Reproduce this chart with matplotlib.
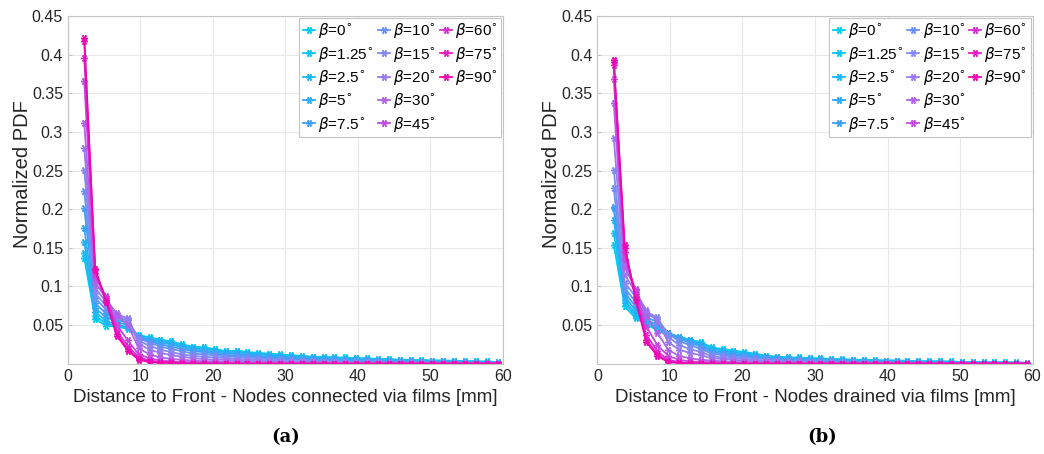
import matplotlib
matplotlib.use("Agg")
import matplotlib.pyplot as plt
from matplotlib.lines import Line2D

plt.rcParams['font.family'] = ['Liberation Sans', 'DejaVu Sans']

distance = [2.25 + 1.5 * k for k in range(39)]

betas = ['0', '1.25', '2.5', '5', '7.5', '10', '15', '20', '30', '45', '60', '75', '90']
colors = ['#00ccee', '#10c2f2', '#1fb6f5', '#2eaaf6', '#3f9ff5', '#6891f7', '#8388f2',
          '#9a79ef', '#b062e8', '#c24ae0', '#d92ed2', '#e61cc3', '#ee06b2']

# (a) nodes connected via films
pdf_a = [
    [0.137, 0.058, 0.049, 0.048, 0.045, 0.037, 0.034, 0.031, 0.029, 0.025, 0.022, 0.021, 0.019, 0.016, 0.017, 0.015, 0.014, 0.013, 0.012, 0.011, 0.010, 0.009, 0.009, 0.008, 0.008, 0.007, 0.007, 0.006, 0.006, 0.005, 0.005, 0.005, 0.004, 0.004, 0.004, 0.003, 0.003, 0.003, 0.002],
    [0.143, 0.062, 0.052, 0.049, 0.046, 0.036, 0.033, 0.030, 0.028, 0.024, 0.021, 0.020, 0.018, 0.016, 0.016, 0.014, 0.013, 0.012, 0.011, 0.010, 0.009, 0.009, 0.008, 0.008, 0.007, 0.007, 0.006, 0.006, 0.005, 0.005, 0.005, 0.004, 0.004, 0.004, 0.003, 0.003, 0.003, 0.002, 0.002],
    [0.157, 0.067, 0.055, 0.051, 0.047, 0.036, 0.032, 0.029, 0.027, 0.023, 0.020, 0.019, 0.017, 0.015, 0.015, 0.013, 0.012, 0.011, 0.010, 0.009, 0.009, 0.008, 0.007, 0.007, 0.006, 0.006, 0.006, 0.005, 0.005, 0.004, 0.004, 0.004, 0.003, 0.003, 0.003, 0.003, 0.002, 0.002, 0.002],
    [0.175, 0.072, 0.060, 0.054, 0.050, 0.035, 0.031, 0.027, 0.025, 0.021, 0.018, 0.017, 0.015, 0.013, 0.013, 0.011, 0.010, 0.009, 0.009, 0.008, 0.007, 0.007, 0.006, 0.006, 0.005, 0.005, 0.005, 0.004, 0.004, 0.004, 0.003, 0.003, 0.003, 0.003, 0.002, 0.002, 0.002, 0.002, 0.001],
    [0.201, 0.078, 0.065, 0.057, 0.053, 0.034, 0.029, 0.025, 0.022, 0.019, 0.016, 0.015, 0.013, 0.011, 0.011, 0.010, 0.009, 0.008, 0.007, 0.007, 0.006, 0.006, 0.005, 0.005, 0.004, 0.004, 0.004, 0.003, 0.003, 0.003, 0.003, 0.002, 0.002, 0.002, 0.002, 0.002, 0.001, 0.001, 0.001],
    [0.223, 0.085, 0.070, 0.060, 0.056, 0.033, 0.027, 0.022, 0.019, 0.016, 0.013, 0.012, 0.011, 0.009, 0.009, 0.008, 0.007, 0.006, 0.006, 0.005, 0.005, 0.004, 0.004, 0.004, 0.003, 0.003, 0.003, 0.003, 0.002, 0.002, 0.002, 0.002, 0.002, 0.001, 0.001, 0.001, 0.001, 0.001, 0.001],
    [0.251, 0.091, 0.075, 0.062, 0.059, 0.030, 0.023, 0.018, 0.015, 0.012, 0.010, 0.009, 0.008, 0.007, 0.006, 0.006, 0.005, 0.004, 0.004, 0.003, 0.003, 0.003, 0.002, 0.002, 0.002, 0.002, 0.002, 0.001, 0.001, 0.001, 0.001, 0.001, 0.001, 0.001, 0.001, 0.001, 0.0005, 0.0005, 0.0005],
    [0.279, 0.098, 0.080, 0.065, 0.058, 0.026, 0.018, 0.014, 0.011, 0.009, 0.007, 0.006, 0.005, 0.005, 0.004, 0.004, 0.003, 0.003, 0.002, 0.002, 0.002, 0.002, 0.001, 0.001, 0.001, 0.001, 0.001, 0.001, 0.001, 0.001, 0.0005, 0.0005, 0.0005, 0.0005, 0.0005, 0, 0, 0, 0],
    [0.312, 0.105, 0.085, 0.063, 0.050, 0.020, 0.012, 0.008, 0.006, 0.005, 0.004, 0.003, 0.003, 0.002, 0.002, 0.002, 0.001, 0.001, 0.001, 0.001, 0.001, 0.001, 0.001, 0, 0, 0, 0, 0, 0, 0, 0, 0, 0, 0, 0, 0, 0, 0, 0],
    [0.366, 0.112, 0.087, 0.050, 0.030, 0.012, 0.007, 0.004, 0.003, 0.002, 0.002, 0.001, 0.001, 0.001, 0.001, 0, 0, 0, 0, 0, 0, 0, 0, 0, 0, 0, 0, 0, 0, 0, 0, 0, 0, 0, 0, 0, 0, 0, 0],
    [0.396, 0.118, 0.085, 0.042, 0.023, 0.008, 0.004, 0.002, 0.002, 0.001, 0.001, 0.001, 0, 0, 0, 0, 0, 0, 0, 0, 0, 0, 0, 0, 0, 0, 0, 0, 0, 0, 0, 0, 0, 0, 0, 0, 0, 0, 0],
    [0.418, 0.121, 0.082, 0.038, 0.019, 0.006, 0.003, 0.002, 0.001, 0.001, 0, 0, 0, 0, 0, 0, 0, 0, 0, 0, 0, 0, 0, 0, 0, 0, 0, 0, 0, 0, 0, 0, 0, 0, 0, 0, 0, 0, 0],
    [0.421, 0.123, 0.080, 0.036, 0.017, 0.005, 0.002, 0.001, 0.001, 0, 0, 0, 0, 0, 0, 0, 0, 0, 0, 0, 0, 0, 0, 0, 0, 0, 0, 0, 0, 0, 0, 0, 0, 0, 0, 0, 0, 0, 0],
]

# (b) nodes drained via films
pdf_b = [
    [0.154, 0.074, 0.059, 0.051, 0.043, 0.037, 0.034, 0.031, 0.028, 0.021, 0.019, 0.017, 0.015, 0.013, 0.010, 0.009, 0.008, 0.008, 0.007, 0.007, 0.006, 0.006, 0.005, 0.005, 0.005, 0.004, 0.004, 0.004, 0.003, 0.003, 0.003, 0.003, 0.002, 0.002, 0.002, 0.002, 0.002, 0.002, 0.001],
    [0.169, 0.078, 0.062, 0.053, 0.045, 0.038, 0.035, 0.031, 0.027, 0.020, 0.018, 0.016, 0.014, 0.012, 0.010, 0.009, 0.008, 0.007, 0.007, 0.006, 0.006, 0.005, 0.005, 0.005, 0.004, 0.004, 0.004, 0.003, 0.003, 0.003, 0.003, 0.002, 0.002, 0.002, 0.002, 0.002, 0.001, 0.001, 0.001],
    [0.186, 0.082, 0.065, 0.055, 0.047, 0.039, 0.035, 0.030, 0.026, 0.019, 0.017, 0.015, 0.013, 0.011, 0.009, 0.008, 0.007, 0.007, 0.006, 0.006, 0.005, 0.005, 0.004, 0.004, 0.004, 0.003, 0.003, 0.003, 0.003, 0.002, 0.002, 0.002, 0.002, 0.002, 0.001, 0.001, 0.001, 0.001, 0.001],
    [0.201, 0.087, 0.069, 0.057, 0.050, 0.040, 0.034, 0.029, 0.024, 0.017, 0.015, 0.013, 0.011, 0.010, 0.008, 0.007, 0.006, 0.006, 0.005, 0.005, 0.004, 0.004, 0.004, 0.003, 0.003, 0.003, 0.003, 0.002, 0.002, 0.002, 0.002, 0.002, 0.001, 0.001, 0.001, 0.001, 0.001, 0.001, 0.001],
    [0.203, 0.092, 0.074, 0.060, 0.054, 0.040, 0.032, 0.027, 0.022, 0.015, 0.013, 0.011, 0.010, 0.008, 0.007, 0.006, 0.005, 0.005, 0.004, 0.004, 0.003, 0.003, 0.003, 0.003, 0.002, 0.002, 0.002, 0.002, 0.002, 0.001, 0.001, 0.001, 0.001, 0.001, 0.001, 0.001, 0.001, 0.0005, 0.0005],
    [0.227, 0.098, 0.080, 0.064, 0.058, 0.039, 0.029, 0.024, 0.019, 0.013, 0.011, 0.009, 0.008, 0.007, 0.006, 0.005, 0.004, 0.004, 0.003, 0.003, 0.003, 0.002, 0.002, 0.002, 0.002, 0.002, 0.001, 0.001, 0.001, 0.001, 0.001, 0.001, 0.001, 0.001, 0.0005, 0.0005, 0.0005, 0.0005, 0.0005],
    [0.251, 0.105, 0.087, 0.067, 0.060, 0.035, 0.024, 0.019, 0.015, 0.010, 0.008, 0.007, 0.006, 0.005, 0.004, 0.004, 0.003, 0.003, 0.002, 0.002, 0.002, 0.002, 0.001, 0.001, 0.001, 0.001, 0.001, 0.001, 0.001, 0, 0, 0, 0, 0, 0, 0, 0, 0, 0],
    [0.292, 0.115, 0.093, 0.069, 0.055, 0.028, 0.018, 0.014, 0.011, 0.007, 0.006, 0.005, 0.004, 0.003, 0.003, 0.002, 0.002, 0.002, 0.001, 0.001, 0.001, 0.001, 0.001, 0.001, 0, 0, 0, 0, 0, 0, 0, 0, 0, 0, 0, 0, 0, 0, 0],
    [0.338, 0.125, 0.097, 0.062, 0.040, 0.018, 0.010, 0.007, 0.005, 0.004, 0.003, 0.002, 0.002, 0.001, 0.001, 0.001, 0.001, 0.001, 0, 0, 0, 0, 0, 0, 0, 0, 0, 0, 0, 0, 0, 0, 0, 0, 0, 0, 0, 0, 0],
    [0.368, 0.135, 0.095, 0.048, 0.024, 0.010, 0.005, 0.003, 0.002, 0.002, 0.001, 0.001, 0.001, 0, 0, 0, 0, 0, 0, 0, 0, 0, 0, 0, 0, 0, 0, 0, 0, 0, 0, 0, 0, 0, 0, 0, 0, 0, 0],
    [0.387, 0.145, 0.090, 0.037, 0.016, 0.005, 0.002, 0.001, 0.001, 0.001, 0, 0, 0, 0, 0, 0, 0, 0, 0, 0, 0, 0, 0, 0, 0, 0, 0, 0, 0, 0, 0, 0, 0, 0, 0, 0, 0, 0, 0],
    [0.390, 0.150, 0.086, 0.031, 0.012, 0.003, 0.001, 0.001, 0, 0, 0, 0, 0, 0, 0, 0, 0, 0, 0, 0, 0, 0, 0, 0, 0, 0, 0, 0, 0, 0, 0, 0, 0, 0, 0, 0, 0, 0, 0],
    [0.393, 0.153, 0.083, 0.028, 0.010, 0.002, 0.001, 0, 0, 0, 0, 0, 0, 0, 0, 0, 0, 0, 0, 0, 0, 0, 0, 0, 0, 0, 0, 0, 0, 0, 0, 0, 0, 0, 0, 0, 0, 0, 0],
]

xlabels = ['Distance to Front - Nodes connected via films [mm]',
           'Distance to Front - Nodes drained via films [mm]']
panel_tags = ['(a)', '(b)']


def draw_panel(ax, pdf, xlabel):
    handles = []
    for beta, color, values in zip(betas, colors, pdf):
        line, = ax.plot(distance, values, color=color, linewidth=1.3,
                        marker=(6, 2, 90), markersize=5, markeredgewidth=1.0,
                        label=r'$\beta$=' + beta + r'$^{\circ}$')
        handles.append(line)
    # two empty slots so the legend columns hold 5, 5 and 3 entries
    for _ in range(2):
        handles.append(Line2D([], [], linestyle='none', label=' '))
    ax.set_xlim(0, 60)
    ax.set_ylim(0, 0.45)
    ax.set_xticks(range(0, 61, 10))
    ax.set_yticks([0.05, 0.1, 0.15, 0.2, 0.25, 0.3, 0.35, 0.4, 0.45])
    ax.set_yticklabels(['0.05', '0.1', '0.15', '0.2', '0.25', '0.3', '0.35', '0.4', '0.45'])
    ax.grid(True, color='#e8e8e8', linewidth=0.8)
    ax.set_axisbelow(True)
    for spine in ax.spines.values():
        spine.set_color('#c4c4c4')
        spine.set_linewidth(0.8)
    ax.tick_params(direction='in', length=3, colors='#c4c4c4', labelcolor='#262626',
                   labelsize=11.5)
    ax.set_xlabel(xlabel, fontsize=13.5, color='#262626', labelpad=4)
    ax.set_ylabel('Normalized PDF', fontsize=14.5, color='#262626')
    ax.yaxis.set_label_coords(-0.083, 0.545)
    leg = ax.legend(handles=handles, ncol=3, loc='upper right', fontsize=11,
                    handlelength=0.8, handletextpad=0.2, columnspacing=0.25,
                    labelspacing=0.28, borderpad=0.25, borderaxespad=0.1,
                    fancybox=False, framealpha=1)
    leg.get_frame().set_edgecolor('#c4c4c4')
    leg.get_frame().set_linewidth(0.8)


fig = plt.figure(figsize=(10.44, 4.54), dpi=100)
ax_a = fig.add_axes([0.0651, 0.199, 0.4167, 0.7656])
ax_b = fig.add_axes([0.5723, 0.199, 0.4167, 0.7656])

draw_panel(ax_a, pdf_a, xlabels[0])
draw_panel(ax_b, pdf_b, xlabels[1])

fig.text(0.2735, 0.0374, panel_tags[0], fontsize=13, family='DejaVu Serif',
         fontweight='bold', ha='center', va='center')
fig.text(0.7875, 0.0374, panel_tags[1], fontsize=13, family='DejaVu Serif',
         fontweight='bold', ha='center', va='center')

fig.savefig('out.png', dpi=100)
